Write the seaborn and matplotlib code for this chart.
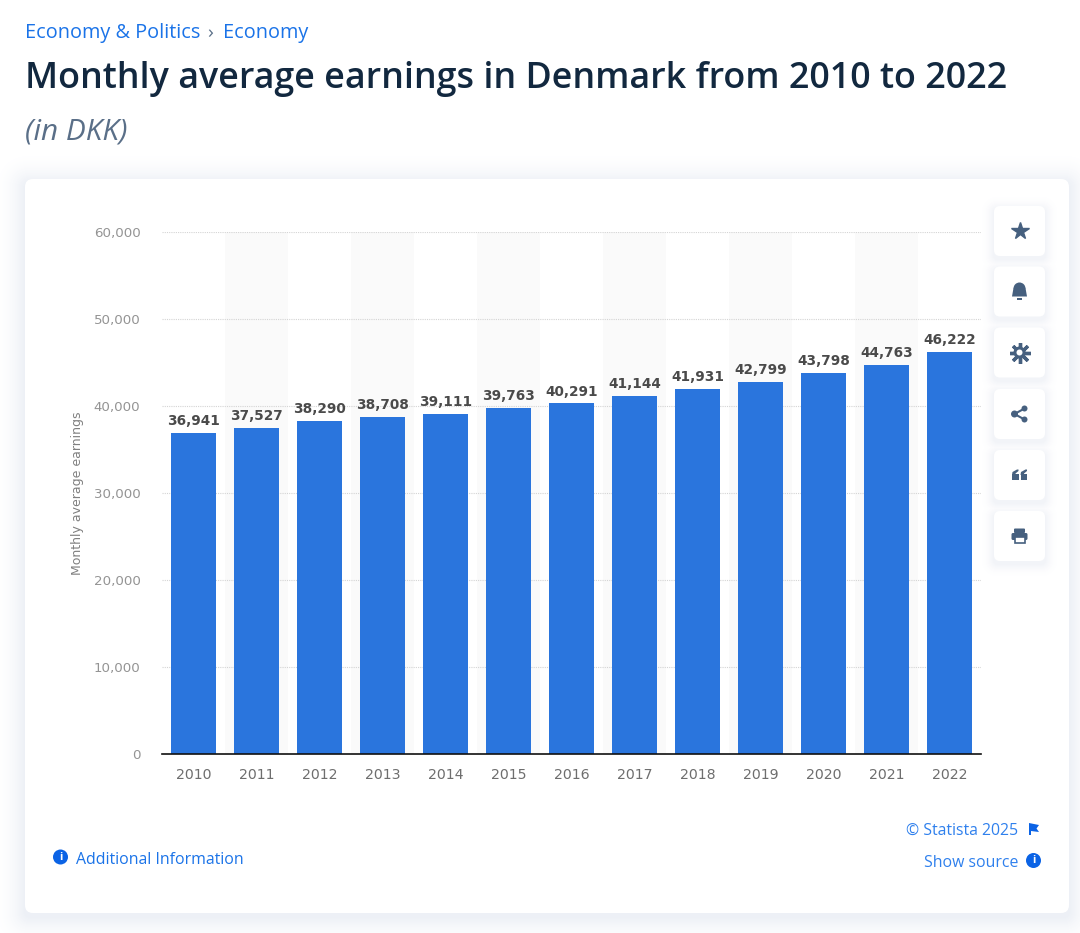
import matplotlib
matplotlib.use("Agg")
import matplotlib.pyplot as plt
from matplotlib.patches import FancyBboxPatch, Circle, Rectangle, Polygon, Wedge
import seaborn as sns
import pandas as pd

years = ["2010","2011","2012","2013","2014","2015","2016","2017","2018","2019","2020","2021","2022"]
earnings = [36941,37527,38290,38708,39111,39763,40291,41144,41931,42799,43798,44763,46222]
y_ticks = [0,10000,20000,30000,40000,50000,60000]
y_axis_title = "Monthly average earnings"
breadcrumb = ["Economy & Politics", "Economy"]
title = "Monthly average earnings in Denmark from 2010 to 2022"
subtitle = "(in DKK)"

sns.set_theme(style="white")
plt.rcParams['font.family'] = ['Open Sans', 'DejaVu Sans']
W, H = 1080, 933
fig = plt.figure(figsize=(W/100, H/100), dpi=100, facecolor="white")

bg = fig.add_axes([0, 0, 1, 1], zorder=0)
bg.set_xlim(0, W); bg.set_ylim(H, 0); bg.axis("off")

def rbox(ax, x0, y0, x1, y1, r, **kw):
    p = FancyBboxPatch((x0, y0), x1-x0, y1-y0, boxstyle=f"round,pad=0,rounding_size={r}", **kw)
    ax.add_patch(p)
    return p

def shade(t, edge=(236, 239, 245)):
    # t = 1 next to the box, 0 at the outer limit of the shadow
    return tuple((255 - (255 - c) * t) / 255 for c in edge)

# card + soft shadow drawn as opaque steps
for i in range(32, 0, -1):
    t = (1 - i / 33) ** 2
    rbox(bg, 25-i, 179-i+4, 1069+i, 913+i+4, 8+i, fc=shade(t), ec="none")
rbox(bg, 25, 179, 1069, 913, 8, fc="white", ec="none")

# header
blue = "#1a73e8"
bg.text(25, 33, breadcrumb[0], color=blue, fontsize=14.35, va="center", ha="left")
bg.text(207, 33, "›", color="#5b7089", fontsize=14, va="center", ha="left")
bg.text(223, 33, breadcrumb[1], color=blue, fontsize=14.35, va="center", ha="left")
bg.text(25, 79, title, color="#12283f", fontsize=25.85, fontweight="semibold", va="center", ha="left")
bg.text(25, 132, subtitle, color="#5a6f88", fontsize=21.4, style="italic", va="center", ha="left")

# toolbar glow
icon = "#46607f"
cys = [231, 291.5, 352.5, 414, 475, 536]
for i in range(14, 0, -1):
    t = (1 - i / 15) ** 2
    for cy in cys:
        rbox(bg, 994-i, cy-25-i+3, 1045+i, cy+25+i+3, 6+i, fc=shade(t, (240, 242, 247)), ec="none", zorder=5)

# chart
L, R, T, B = 162, 981, 232, 754
ax = fig.add_axes([L/W, 1-B/H, (R-L)/W, (B-T)/H], zorder=1)
ax.patch.set_alpha(0)
df = pd.DataFrame({"year": years, "earnings": earnings})
for i in range(1, len(years), 2):
    ax.axvspan(i-0.5, i+0.5, color="#fafafa", lw=0, zorder=0)
ax.yaxis.grid(True, color="#d4d4d4", linestyle=(0, (1, 1)), linewidth=0.8, zorder=0.5)
ax.set_axisbelow(True)
sns.barplot(data=df, x="year", y="earnings", color="#2a75dd", saturation=1, width=0.7, ax=ax, zorder=2, linewidth=0)
ax.set_xlim(-0.5, len(years)-0.5)
ax.set_ylim(0, 60000)
ax.set_yticks(y_ticks)
ax.set_yticklabels([f"{v:,}" for v in y_ticks])
for s in ["top", "left", "right"]:
    ax.spines[s].set_visible(False)
ax.spines["bottom"].set_color("#111111")
ax.spines["bottom"].set_linewidth(1.2)
ax.tick_params(axis="y", length=0, pad=15.5, labelsize=9.6, labelcolor="#949494")
ax.tick_params(axis="x", length=0, pad=10, labelsize=10.2, labelcolor="#6e6e6e")
for t_ in ax.get_xticklabels() + ax.get_yticklabels():
    t_.set_family("DejaVu Sans")
ax.set_xlabel("")
ax.set_ylabel("")
bg.text(77, 493, y_axis_title, rotation=90, color="#808080", fontsize=9.0, ha="center", va="center", family="DejaVu Sans")
ax.bar_label(ax.containers[0], labels=[f"{v:,}" for v in earnings], padding=3.5, fontsize=9.8,
             fontweight="bold", color="#4a4a4a", family="DejaVu Sans", zorder=3)

# footer
bg.text(75.5, 860, "Additional Information", color=blue, fontsize=11.45, va="center", ha="left")
bg.text(1018, 831, "© Statista 2025", color="#2f80ed", fontsize=11.4, va="center", ha="right")
bg.text(1018, 863, "Show source", color="#2f80ed", fontsize=11.4, va="center", ha="right")
def info(x, y):
    bg.add_patch(Circle((x, y), 7.5, fc="#0b63e5", ec="none"))
    bg.text(x, y+0.3, "i", color="white", fontsize=8, fontweight="bold", ha="center", va="center")
info(60.5, 857); info(1033.5, 860.5)
bg.add_patch(Polygon([(1029,823),(1039,825),(1036.5,828.5),(1039,832),(1031,831),(1031,835),(1029,835)], fc="#0b63e5", ec="none"))

# toolbar buttons
ov = fig.add_axes([0, 0, 1, 1], zorder=2)
ov.set_xlim(0, W); ov.set_ylim(H, 0); ov.axis("off")
for cy in cys:
    rbox(ov, 994, cy-25, 1045, cy+25, 6, fc="white", ec="none", zorder=6)
z = 7
cx = 1019.5
ov.plot([cx], [cys[0]], marker="*", ms=13, color=icon, mec=icon, ls="none", zorder=z)
# bell
cy = cys[1]
ov.add_patch(Wedge((cx, cy-3), 6, 180, 360, fc=icon, ec="none", zorder=z))
ov.add_patch(Polygon([(cx-6, cy-3.5), (cx+6, cy-3.5), (cx+7.5, cy+5), (cx-7.5, cy+5)], fc=icon, ec="none", zorder=z))
ov.add_patch(Rectangle((cx-2.5, cy+6.5), 5, 1.5, fc=icon, ec="none", zorder=z))
# gear
cy = cys[2]
ov.plot([cx], [cy], marker=(8, 2, 0), ms=15, color=icon, mec=icon, mew=2.4, ls="none", zorder=z)
ov.add_patch(Circle((cx, cy), 6, fc=icon, ec="none", zorder=z))
ov.add_patch(Circle((cx, cy), 3, fc="white", ec="none", zorder=z))
# share
cy = cys[3]
pts = [(cx-5, cy), (cx+5, cy-5.5), (cx+5, cy+5.5)]
ov.plot([pts[1][0], pts[0][0], pts[2][0]], [pts[1][1], pts[0][1], pts[2][1]], color=icon, lw=1.5, zorder=z)
for p, r in zip(pts, [3.5, 3, 3]):
    ov.add_patch(Circle(p, r, fc=icon, ec="none", zorder=z))
# quotes
cy = cys[4]
for dx in (-7.5, 1):
    ov.add_patch(Rectangle((cx+dx, cy-1), 6.5, 6, fc=icon, ec="none", zorder=z))
    ov.add_patch(Polygon([(cx+dx, cy), (cx+dx+0.5, cy-3), (cx+dx+5, cy-5.5), (cx+dx+6.5, cy-5.5), (cx+dx+6.5, cy-4), (cx+dx+3.5, cy-1.5), (cx+dx+3.5, cy)], fc=icon, ec="none", zorder=z))
# printer
cy = cys[5]
rbox(ov, cx-8, cy-3, cx+8, cy+4, 1.5, fc=icon, ec="none", zorder=z)
rbox(ov, cx-5.5, cy-7.5, cx+5.5, cy-3, 1, fc=icon, ec="none", zorder=z)
ov.add_patch(Rectangle((cx-5, cy+1), 10, 6, fc="white", ec=icon, lw=1.2, zorder=z))

fig.savefig("out.png", dpi=100, facecolor="white")
